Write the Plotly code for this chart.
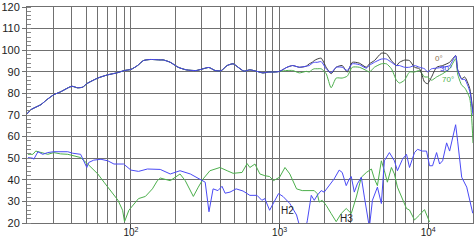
import math
import plotly.graph_objects as go

# ---- main responses (Hz, dB SPL) ----
base_f = [20, 21.3, 24.8, 27.1, 30.3, 33.6, 40, 43.7, 47.4, 50.5, 59.9, 69.9, 80.3, 90.6, 100,
          110.8, 121.4, 135.3, 157.6, 165, 184, 208, 236, 275, 306, 335, 368, 404, 444, 487,
          526, 576, 631, 705, 771, 845, 924, 1000]
base_db = [70.5, 72.5, 74.8, 77, 79.4, 80.7, 83.3, 82.6, 82.9, 84.5, 87.1, 88.6, 89.5, 90.6, 91.1,
           92.9, 95.2, 95.7, 95.5, 95.5, 94.4, 92.1, 90.9, 90.6, 91.4, 92, 90.6, 90.5, 92.9, 93.7,
           92.1, 90.3, 90.9, 90.2, 89.5, 89.9, 89.9, 90.2]

hi_f = [1122, 1224, 1358, 1513, 1583, 1659, 1711, 1791, 1905, 2058, 2222, 2403, 2638, 2852, 3084,
        3439, 3836, 4019, 4345, 4838, 5229, 5653, 6110, 6402, 6921, 7480, 8082, 8733, 9438, 9890,
        10527, 11378, 12491, 13924, 15285, 15769, 16785, 17590, 19016, 20000]
deg0_hi = [92.1, 92.9, 92.1, 92.6, 93.7, 94.4, 95.2, 95.9, 96.3, 92.1, 89.1, 92.1, 92.9, 89.9, 94.4,
           94.0, 92.1, 93.7, 95.2, 98.6, 98.4, 95.2, 92.9, 94.4, 95.4, 95.2, 92.1, 91.4, 85.3, 84.5,
           87.6, 92.1, 92.9, 94.4, 97.5, 91.0, 86.8, 87.6, 82.3, 71.0]
deg30_hi = [92.1, 92.9, 92.1, 92.6, 92.9, 94.0, 94.4, 94.4, 94.7, 91.4, 89.6, 92.1, 92.1, 90.6, 93.7,
            93.3, 91.7, 93.0, 94.4, 95.9, 95.9, 94.4, 92.9, 92.9, 92.1, 92.1, 92.9, 92.1, 91.4, 90.0,
            91.4, 91.7, 92.1, 92.9, 97.5, 91.0, 86.5, 86.5, 81.0, 70.0]
deg70_hi = [90.6, 90.6, 89.5, 90.2, 89.9, 91.0, 91.4, 91.4, 91.4, 89.1, 82.6, 87.1, 87.1, 88.0, 92.1,
            92.1, 90.6, 89.9, 92.1, 93.7, 93.7, 91.4, 86.1, 84.8, 86.1, 89.9, 89.9, 90.6, 87.6, 87.6,
            86.1, 87.6, 89.1, 91.4, 96.0, 89.0, 83.8, 82.6, 77.7, 57.0]

# ---- distortion ----
h2_f = [20.3, 21.9, 22.2, 23.7, 25.5, 27.6, 30.3, 37.6, 40.6, 45.9, 48.1, 50.5, 52, 56.2, 62.9, 69.9,
        76.9, 89.3, 100, 112.5, 129.1, 157.6, 184, 214, 251, 292, 316, 335, 357, 385, 410, 430, 464,
        510, 568, 631, 705, 760, 796, 857, 924, 984, 1054, 1172, 1301, 1358, 1513, 1536, 1634, 1711,
        1791, 1905, 1996, 2155, 2328, 2517, 2638, 2807, 2943, 3036, 3181, 3334, 3548, 3719, 3895,
        4019, 4211, 4551, 4838, 5068, 5479, 5922, 6205, 6708, 7140, 7480, 8082, 8466, 9148, 9737,
        10204, 10692, 11378, 11922, 12491, 13289, 13924, 14588, 15285, 15769, 16785, 18148, 19924]
h2_db = [50.3, 50, 49.5, 53, 51.8, 52.6, 53, 53, 52.3, 51.8, 48.8, 45.7, 48, 49.1, 49.5, 48.8,
         47.3, 47.3, 44.5, 43.9, 45, 44.8, 42.7, 44.2, 42.7, 40, 38.9, 25.2, 35.8, 35, 37, 33.8, 34.3,
         35.8, 34.8, 32.8, 32.8, 30.5, 31.3, 25.9, 30.5, 33.6, 32.3, 29, 23.7, 19, 19, 21, 32.8, 30.5,
         32.8, 35, 34.3, 37.3, 40.4, 44.5, 43.4, 37.3, 40.4, 41.5, 34.3, 38.1, 41.2, 32, 22.9,
         18, 30.5, 36.6, 29, 48.8, 52.6, 48.8, 44.2, 49.5, 51.8, 45.7, 52.6, 54.1, 53.3, 53.3,
         46.5, 46.5, 52.6, 47.3, 48.8, 57.1, 53.3, 59.4, 65.5, 57.9, 41.2, 36.6, 24.5]

h3_f = [20.3, 21.9, 22.9, 24.8, 27.6, 30.3, 33.6, 37.6, 41.2, 45.9, 51.2, 59.9, 65.9, 73.4, 81.9,
        87.9, 90.6, 96.9, 104.9, 112.5, 125.2, 139.5, 150.6, 157.6, 184, 214, 232, 251, 263, 284,
        306, 340, 397, 444, 487, 559, 605, 631, 683, 737, 796, 857, 910, 1000, 1087, 1172, 1301,
        1420, 1583, 1711, 1791, 1848, 1935, 2058, 2222, 2403, 2597, 2807, 3036, 3282, 3548, 3836,
        4146, 4345, 4551, 4838, 5068, 5310, 5653, 5922, 6205, 6605, 7140, 7480, 8082, 8733, 9438, 10204]
h3_db = [51.8, 51.8, 53.3, 52.6, 51.8, 52.6, 52, 51.8, 51, 50.3, 47.3, 42.7, 38.9, 35, 30.5,
         25.9, 20.6, 25.9, 29, 31.3, 32.3, 35.8, 39.6, 40.8, 39.6, 42.7, 39.6, 35, 32.3, 36.6,
         40.4, 44.2, 45.7, 44.2, 43, 43.4, 47.5, 45.7, 47.3, 42.7, 41.9, 41.5, 39.6, 41.2, 45.7, 42.7, 35.8,
         35, 35, 35, 33.6, 29.7, 30.5, 28.2, 24.4, 20.6, 24.4, 26.7, 24.4, 32, 41.2, 43.4,
         45, 40.4, 37.3, 48.8, 44.2, 38.9, 45.7, 42.7, 36.6, 32, 26.7, 26, 21.4, 23.7, 26.2, 20.5]

grid_freqs = [20, 30, 40, 50, 60, 70, 80, 90, 100, 200, 300, 400, 500, 600, 700, 800, 900,
              1000, 2000, 3000, 4000, 5000, 6000, 7000, 8000, 9000, 10000, 20000]
decade_labels = {100: "10<sup>2</sup>", 1000: "10<sup>3</sup>", 10000: "10<sup>4</sup>"}
y_ticks = [20, 30, 40, 50, 60, 70, 80, 90, 100, 110, 120]

# curve labels: (text, frequency Hz, dB)
label_text = ["0°", "30°", "70°", "H2", "H3"]
label_freq = [11900, 13200, 13500, 1122, 2807]
label_db = [96.2, 91.6, 86.3, 25.6, 22.3]

BLACK = "#3a3a3a"
BLUE = "#4a4af5"
GREEN = "#4caf4c"
label_color = ["#8a7050", "#3a3ae0", GREEN, "#222", "#222"]

fig = go.Figure()
fig.add_trace(go.Scatter(x=h3_f, y=h3_db, mode="lines", line=dict(color=GREEN, width=1)))
fig.add_trace(go.Scatter(x=h2_f, y=h2_db, mode="lines", line=dict(color=BLUE, width=1)))
fig.add_trace(go.Scatter(x=base_f + hi_f, y=base_db + deg70_hi, mode="lines",
                         line=dict(color=GREEN, width=1, shape="spline", smoothing=0.6)))
fig.add_trace(go.Scatter(x=base_f + hi_f, y=base_db + deg0_hi, mode="lines",
                         line=dict(color=BLACK, width=1, shape="spline", smoothing=0.6)))
fig.add_trace(go.Scatter(x=base_f + hi_f, y=base_db + deg30_hi, mode="lines",
                         line=dict(color=BLUE, width=1, shape="spline", smoothing=0.6)))
# invisible trace to anchor the decade tick axis
fig.add_trace(go.Scatter(x=[100, 1000], y=[50, 50], xaxis="x2", mode="lines",
                         line=dict(width=0), opacity=0, hoverinfo="skip"))

GRID = "#707070"
fig.update_layout(
    width=475, height=241,
    margin=dict(l=26, r=1, t=4, b=18),
    paper_bgcolor="white", plot_bgcolor="white",
    showlegend=False,
    font=dict(family="Liberation Sans, Arial, sans-serif", color="#222"),
    xaxis=dict(type="log", range=[1.30103, 4.30103],
               tickvals=grid_freqs,
               ticktext=[decade_labels.get(f, "") for f in grid_freqs],
               showgrid=True, gridcolor=GRID, gridwidth=1,
               ticks="", tickfont=dict(size=10), ticklabeloverflow="allow",
               showline=True, linecolor=GRID, mirror=True, zeroline=False),
    xaxis2=dict(type="log", range=[1.30103, 4.30103], overlaying="x",
                tickvals=[100, 1000, 10000], ticks="outside", ticklen=5,
                tickcolor="#444", showticklabels=False, showgrid=False,
                showline=False, zeroline=False, anchor="y"),
    yaxis=dict(range=[20, 120], tickvals=y_ticks,
               showgrid=True, gridcolor=GRID, gridwidth=1,
               ticks="outside", ticklen=4, tickcolor=GRID,
               tickfont=dict(size=11), ticklabeloverflow="allow",
               minor=dict(dtick=2, ticks="inside", ticklen=4, tickcolor="#888", showgrid=False),
               showline=True, linecolor=GRID, mirror=True, zeroline=False),
)

for txt, fx, fy, col in zip(label_text, label_freq, label_db, label_color):
    fig.add_annotation(x=math.log10(fx), y=fy, xref="x", yref="y", text=txt, showarrow=False,
                       xanchor="center", yanchor="middle",
                       font=dict(size=8 if "°" in txt else 10, color=col))

fig.write_html("out.html")
